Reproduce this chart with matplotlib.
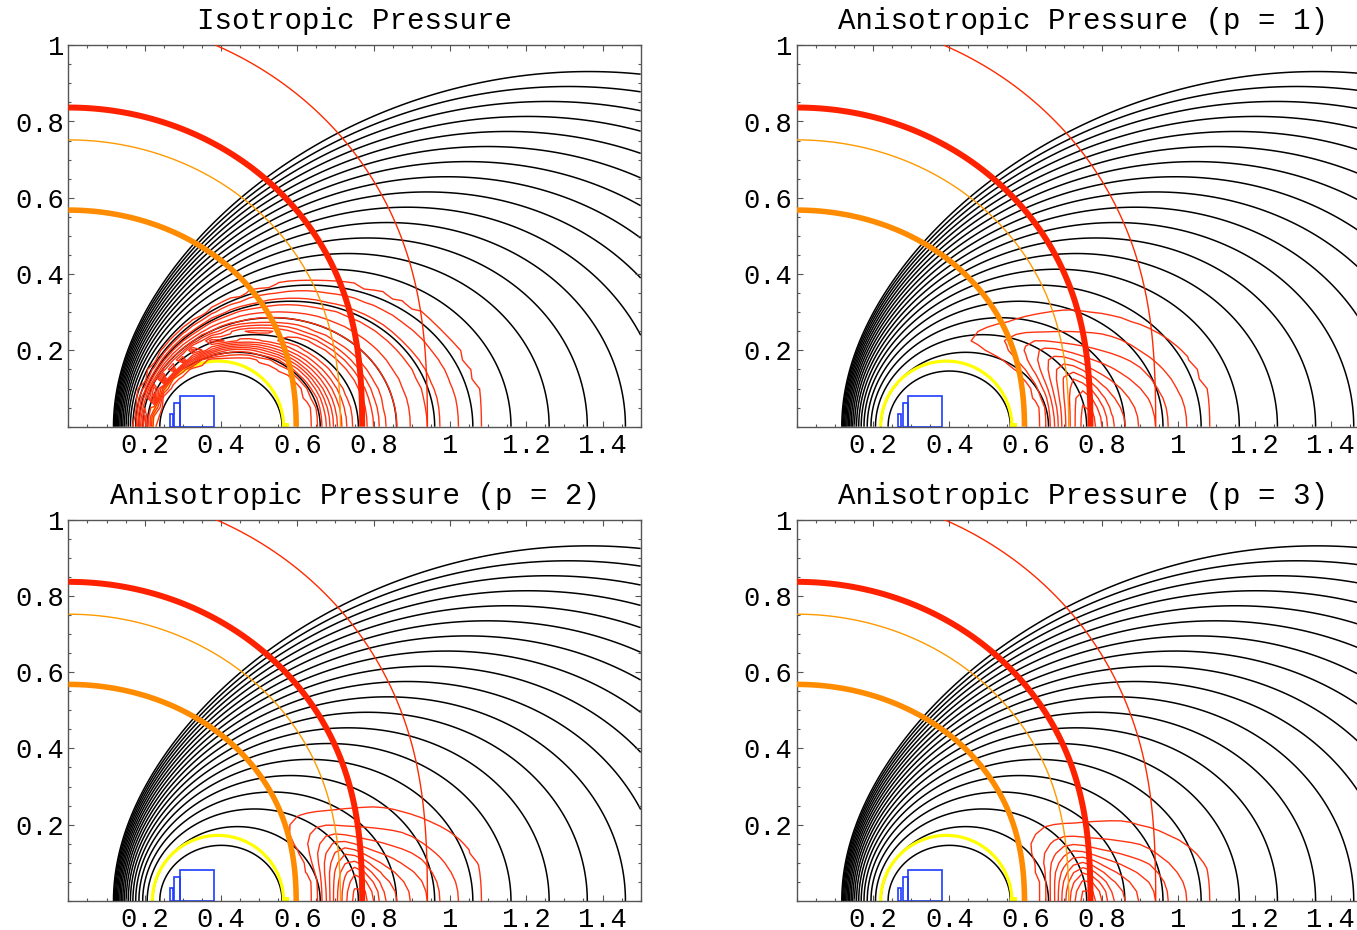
import numpy as np
import matplotlib
matplotlib.use("Agg")
import matplotlib.pyplot as plt
from matplotlib.ticker import FixedLocator, FixedFormatter, MultipleLocator
from matplotlib.patches import Rectangle, Arc

# ---------------- data ----------------
panel_titles = ["Isotropic Pressure", "Anisotropic Pressure (p = 1)",
                "Anisotropic Pressure (p = 2)", "Anisotropic Pressure (p = 3)"]
anisotropy_p = [0, 1, 2, 3]

coil_radius = 0.33                       # radius of the dipole current ring
flux_surface_outer_radii = [0.56, 0.66, 0.76, 0.86, 0.96, 1.06, 1.16, 1.26,
                            1.36, 1.46, 1.56, 1.66, 1.76, 1.86, 1.96, 2.06,
                            2.16, 2.26, 2.36, 2.46]

field_contour_radii = [0.597, 0.713, 0.770, 0.941]     # |B| contours, foot on midplane
field_contour_colors = ["#FF8C00", "#FF9900", "#FF2200", "#FF2A00"]
field_contour_widths = [4.0, 1.0, 4.3, 1.0]

pressure_inner_feet = [0.633, 0.656, 0.668, 0.676, 0.685, 0.694, 0.705, 0.716, 0.729, 0.742]
pressure_outer_feet = [1.096, 1.021, 0.973, 0.943, 0.895, 0.860, 0.830, 0.813, 0.800, 0.785]
pressure_peak_radius = 0.765
pressure_levels = [0.06, 0.154, 0.249, 0.343, 0.438, 0.532, 0.627, 0.721, 0.816, 0.91]

cryostat_center = 0.392
cryostat_radius = 0.172
cryostat_foot = [0.560, 0.578, 0.010]   # x0, x1, height of the little foot block

coil_block_left = [0.266, 0.278, 0.2925]
coil_block_right = [0.273, 0.2925, 0.382]
coil_block_top = [0.034, 0.062, 0.080]

x_major = [0.2, 0.4, 0.6, 0.8, 1.0, 1.2, 1.4]
x_labels = ["0.2", "0.4", "0.6", "0.8", "1", "1.2", "1.4"]
y_major = [0.2, 0.4, 0.6, 0.8, 1.0]
y_labels = ["0.2", "0.4", "0.6", "0.8", "1"]

# ---------------- ring-current field ----------------
def ellipke(m):
    m = np.clip(m, 1e-14, 1 - 1e-14)
    a = np.ones_like(m)
    b = np.sqrt(1 - m)
    c = np.sqrt(m)
    s = 0.5 * c ** 2
    pw = 0.5
    for _ in range(30):
        a, b, c = (a + b) / 2, np.sqrt(a * b), (a - b) / 2
        pw *= 2
        s = s + pw * c ** 2
    K = np.pi / (2 * a)
    return K, K * (1 - s)


def ring_field(rho, z, a):
    rho = np.maximum(rho, 1e-3)
    k2 = 4 * a * rho / ((a + rho) ** 2 + z ** 2)
    K, E = ellipke(k2)
    k = np.sqrt(np.clip(k2, 1e-14, 1))
    psi = np.sqrt(a * rho) / k * ((1 - k2 / 2) * K - E) / np.pi
    alpha2 = np.maximum(a ** 2 + rho ** 2 + z ** 2 - 2 * a * rho, 1e-12)
    beta = np.sqrt(a ** 2 + rho ** 2 + z ** 2 + 2 * a * rho)
    Br = z / (2 * np.pi * alpha2 * beta * rho) * ((a ** 2 + rho ** 2 + z ** 2) * E - alpha2 * K)
    Bz = 1 / (2 * np.pi * alpha2 * beta) * ((a ** 2 - rho ** 2 - z ** 2) * E + alpha2 * K)
    return psi, np.hypot(Br, Bz)


a = coil_radius
xf = np.linspace(0, 1.5, 751)
zf = np.linspace(0, 1.0, 501)
XF, ZF = np.meshgrid(xf, zf)
PSI_F, B_F = ring_field(XF, ZF, a)

r_out = np.array(flux_surface_outer_radii)
flux_levels = np.sort(ring_field(r_out, 0 * r_out, a)[0])
field_levels = [float(ring_field(np.array([r]), np.array([0.0]), a)[1][0]) for r in field_contour_radii]

# coarse grid for pressure contours
xc = np.linspace(0, 1.5, 61)
zc = np.linspace(0, 1.0, 41)
XC, ZC = np.meshgrid(xc, zc)
PSI_C, B_C = ring_field(XC, ZC, a)

# outer midplane radius of each flux surface
r_tab = np.linspace(a + 0.01, 8.0, 6000)
psi_tab, b_tab = ring_field(r_tab, 0 * r_tab, a)
R_OUT = np.interp(PSI_C, psi_tab[::-1], r_tab[::-1])
B0 = np.interp(R_OUT, r_tab, b_tab)

lev = list(pressure_levels)
prof_x = list(pressure_inner_feet) + [pressure_peak_radius] + list(pressure_outer_feet[::-1])
prof_v = lev + [1.0] + lev[::-1]
G = np.interp(R_OUT, prof_x, prof_v, left=0.0, right=0.0)
G = np.where(R_OUT < pressure_inner_feet[0] - 0.03, 0.0, G)

# ---------------- figure ----------------
W, H = 1357, 930
fig = plt.figure(figsize=(W / 100, H / 100), dpi=100)
font = "Liberation Mono"
ax_w, ax_h = 572.3, 381.5
lefts = [68.4, 796.7, 68.4, 796.7]
bottoms = [426.7, 426.7, 901.0, 901.0]

for i in range(4):
    ax = fig.add_axes([lefts[i] / W, 1 - bottoms[i] / H, ax_w / W, ax_h / H])
    ax.set_xlim(0, 1.5)
    ax.set_ylim(0, 1)

    ax.contour(XF, ZF, PSI_F, levels=flux_levels, colors="black", linewidths=1.1, zorder=1)

    ax.add_patch(Arc((cryostat_center, 0), 2 * cryostat_radius, 2 * cryostat_radius,
                     theta1=0, theta2=180, color="#FFFF00", lw=2.3, zorder=2))
    ax.add_patch(Rectangle((cryostat_foot[0], 0), cryostat_foot[1] - cryostat_foot[0],
                           cryostat_foot[2], color="#FFFF00", lw=0, zorder=2))
    for x0, x1, h in zip(coil_block_left, coil_block_right, coil_block_top):
        ax.add_patch(Rectangle((x0, 0), x1 - x0, h, fill=False, ec="#1E3CFF", lw=1.2, zorder=2))

    p = anisotropy_p[i]
    P = G * (B0 / B_C) ** (2 * p)
    ax.contour(XC, ZC, P, levels=lev, colors="#FF3311", linewidths=1.0, zorder=3)

    for lvl, col, lw in zip(field_levels, field_contour_colors, field_contour_widths):
        ax.contour(XF, ZF, B_F, levels=[lvl], colors=col, linewidths=lw, zorder=4)

    ax.set_title(panel_titles[i], fontsize=21, family=font, pad=11.5)
    ax.xaxis.set_major_locator(FixedLocator(x_major))
    ax.xaxis.set_major_formatter(FixedFormatter(x_labels))
    ax.yaxis.set_major_locator(FixedLocator(y_major))
    ax.yaxis.set_major_formatter(FixedFormatter(y_labels))
    ax.xaxis.set_minor_locator(MultipleLocator(0.05))
    ax.yaxis.set_minor_locator(MultipleLocator(0.05))
    ax.tick_params(which="both", direction="in", top=True, right=True, color="#555555", width=0.8)
    ax.tick_params(which="major", length=4.5)
    ax.tick_params(which="minor", length=2.5)
    ax.tick_params(axis="x", pad=4.6, labelsize=19.5)
    ax.tick_params(axis="y", pad=3, labelsize=19.5)
    for lab in ax.get_xticklabels() + ax.get_yticklabels():
        lab.set_family(font)
    for s in ax.spines.values():
        s.set_color("#555555")
        s.set_linewidth(1.0)

fig.savefig("out.png", dpi=100)
